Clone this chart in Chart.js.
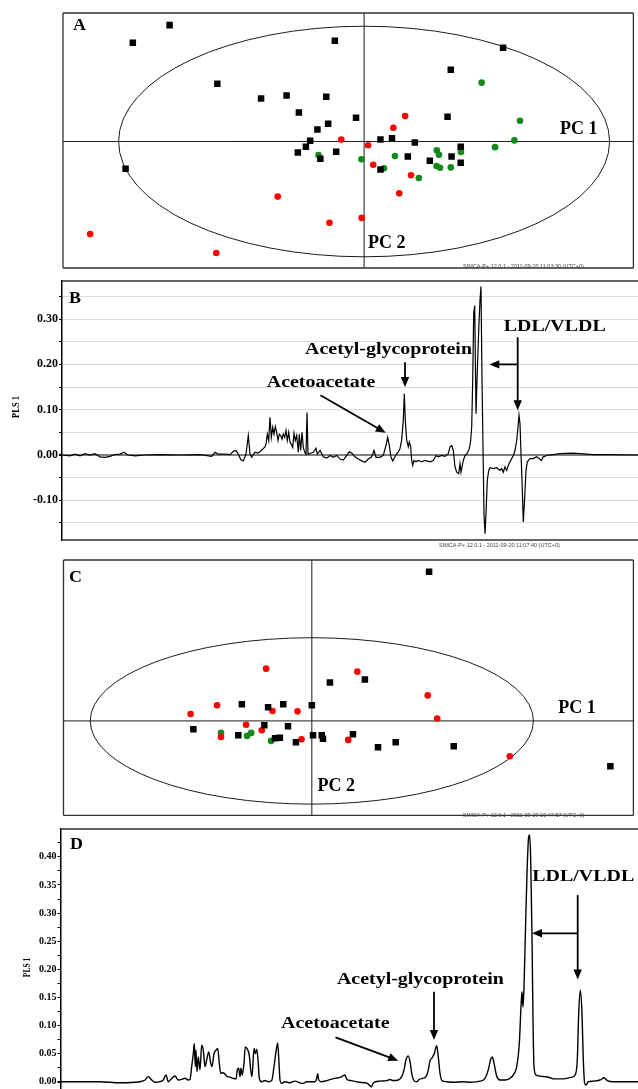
<!DOCTYPE html>
<html>
<head>
<meta charset="utf-8">
<script src="https://cdn.jsdelivr.net/npm/chart.js@4.4.1/dist/chart.umd.min.js"></script>
<style>
  html, body { margin: 0; padding: 0; background: #fff; }
  #page { position: relative; width: 638px; height: 1089px; overflow: hidden; }
  #page canvas { position: absolute; left: 0; }
</style>
</head>
<body>
<div id="page">
  <canvas id="panelA" width="638" height="280" style="top:0"></canvas>
  <canvas id="panelB" width="638" height="270" style="top:280px"></canvas>
  <canvas id="panelC" width="638" height="270" style="top:550px"></canvas>
  <canvas id="panelD" width="638" height="269" style="top:820px"></canvas>
</div>
<script>
// scores, panel A (t[1] / t[2])
const aBlackT1 = [-7.25, -8.62, -1.09, 5.18, 3.23, -5.47, -3.84, -2.89, -1.41, -2.43, -0.30, -1.34, -1.74, 3.11, -2.01,
  -2.17, -2.47, -1.04, -1.63, 0.61, 1.04, 1.89, 1.63, 2.45, 3.60, 3.26, 3.60, 0.61, -8.89];
const aBlackT2 = [4.31, 3.66, 3.73, 3.47, 2.66, 2.14, 1.59, 1.70, 1.66, 1.07, 0.88, 0.66, 0.44, 0.92, 0.03,
  -0.19, -0.41, -0.38, -0.64, 0.07, 0.12, -0.04, -0.56, -0.71, -0.19, -0.56, -0.79, -1.04, -1.01];
const aRedT1 = [1.53, 1.09, -0.85, 0.15, 0.34, 1.75, 1.31, -3.22, -1.29, -0.09, -10.21, -5.51];
const aRedT2 = [0.94, 0.51, 0.07, -0.14, -0.86, -1.25, -1.92, -2.04, -3.01, -2.83, -3.43, -4.13];
const aGreenT1 = [4.38, 5.81, 5.60, 4.88, 2.71, 2.79, 3.61, 2.70, 2.83, 3.23, 2.04, 1.15, 0.74, -0.10, -1.70];
const aGreenT2 = [2.18, 0.77, 0.04, -0.21, -0.33, -0.49, -0.39, -0.91, -0.97, -0.96, -1.35, -0.54, -0.99, -0.66, -0.50];

// scores, panel C
const cBlackT1 = [5.90, 0.91, 2.67, -3.52, -2.20, -1.44, 0.00, -2.39, -1.20, -5.96, -3.70, -1.85, -1.61, -0.80, 0.06,
  0.50, 0.56, 2.07, 3.33, 4.22, 7.14, 15.02];
const cBlackT2 = [7.47, 1.93, 2.08, 0.83, 0.68, 0.83, 0.78, -0.22, -0.27, -0.42, -0.72, -0.87, -0.84, -1.07, -0.72,
  -0.72, -0.89, -0.67, -1.32, -1.07, -1.27, -2.27];
const cRedT1 = [-2.30, 2.29, 5.83, 6.31, -6.10, -4.77, -1.98, -0.72, -3.31, -2.52, -4.57, -0.52, 1.83, 9.96];
const cRedT2 = [2.62, 2.47, 1.28, 0.12, 0.35, 0.78, 0.50, 0.48, -0.19, -0.47, -0.80, -0.92, -0.95, -1.77];
const cGreenT1 = [-4.57, -3.26, -3.05, -2.05];
const cGreenT2 = [-0.60, -0.75, -0.60, -1.00];

// loadings, panel B
const bShift = [0, 8, 13, 18, 23, 28, 33, 38, 43, 48,
  53, 58, 62, 66, 73, 83, 98, 118, 138, 149.7,
  153, 156.3, 163, 168, 171.3, 174, 176.3, 178.7, 181.3, 184,
  186.3, 188, 189.7, 191.3, 193, 196.3, 199.7, 203, 204, 205.3,
  206.7, 208, 209.3, 210.7, 212, 213.3, 214.7, 216, 217.3, 218.7,
  220, 221.3, 222.7, 224, 225.3, 226.7, 228, 229.3, 230.7, 232,
  233.3, 234.7, 236.3, 237.3, 238.7, 240, 241.3, 242.7, 244, 245,
  246, 248.7, 251.3, 254, 255.3, 258, 261.3, 264.7, 268, 271.3,
  274.7, 278, 281.3, 284.7, 287.3, 290, 293, 296.3, 299.7, 303,
  306.3, 309.7, 312, 314, 318, 321.3, 324, 325.7, 327.3, 329,
  330.7, 333, 334.7, 336.3, 338, 339.7, 341.3, 342.3, 343.3, 344.7,
  346.3, 347.3, 348.7, 349.7, 350.7, 352, 354, 356.3, 359.7, 363,
  368, 371.3, 374, 376.3, 379.7, 383, 386.3, 388, 389.7, 391.3,
  393, 394.7, 396.7, 398, 399, 400, 401.3, 403, 405.3, 407.3,
  408.7, 409.7, 410.7, 411.7, 412.7, 414, 415, 416.7, 418, 419,
  420, 421, 422, 423, 424, 425.3, 426.7, 428, 431.3, 434.7,
  438, 439.7, 441.3, 443, 444.7, 446.3, 448, 449.7, 451.3, 453,
  454.7, 456, 457, 458, 459, 460, 461.3, 462.7, 464, 465.3,
  468, 471.3, 474.7, 477.3, 479.3, 481.3, 484.7, 491.3, 498, 511.3,
  518, 531.3, 544.7, 576];
const bLoading = [0, -0.002, 0.002, -0.002, 0.003, 0, 0.003, -0.004, -0.005, -0.003,
  0.001, 0.002, 0.006, 0, -0.002, 0, 0.001, 0, 0.001, -0.003,
  0.006, 0.002, 0.002, 0.001, 0.008, 0.010, 0.002, -0.010, -0.013, 0.002,
  0.043, 0.002, -0.005, 0.001, 0.006, 0.004, 0.011, 0.018, 0.024, 0.046,
  0.032, 0.083, 0.039, 0.061, 0.046, 0.063, 0.050, 0.032, 0.046, 0.043,
  0.035, 0.046, 0.039, 0.054, 0.032, 0.050, 0.028, 0.024, 0.017, 0.048,
  0.032, 0.043, 0.006, 0.046, 0.010, 0.050, 0.017, 0.006, 0.002, 0.094,
  0.002, 0.004, 0.006, 0.015, 0.002, 0.010, -0.004, -0.007, -0.001, -0.005,
  -0.001, -0.009, -0.011, -0.001, 0.007, 0.004, -0.004, -0.009, -0.013, -0.016,
  -0.009, -0.004, 0.010, -0.005, -0.005, -0.001, 0.021, 0.039, 0.021, -0.005,
  -0.013, -0.004, 0.003, 0.007, 0.014, 0.034, 0.077, 0.135, 0.077, 0.032,
  0.018, 0.029, 0.018, -0.012, -0.023, -0.012, -0.015, -0.012, -0.015, -0.012,
  -0.015, -0.012, -0.001, -0.004, -0.001, -0.003, 0.003, 0.018, 0.021, 0.010,
  -0.026, -0.038, -0.041, -0.019, -0.038, -0.026, -0.012, -0.001, 0.004, 0.014,
  0.032, 0.062, 0.165, 0.312, 0.330, 0.091, 0.165, 0.275, 0.342, 0.372,
  0.165, 0.018, -0.130, -0.174, -0.130, -0.056, -0.034, -0.028, -0.030, -0.028,
  -0.034, -0.030, -0.038, -0.026, -0.034, -0.023, -0.015, -0.008, -0.001, 0.010,
  0.032, 0.062, 0.088, 0.069, 0.003, -0.056, -0.148, -0.093, -0.034, -0.015,
  -0.008, -0.008, -0.004, -0.008, -0.012, -0.004, -0.001, 0.001, 0.003, 0.004,
  0.003, 0.001, 0.001, 0];

// loadings, panel D
const dShift = [0, 39.5, 59.5, 74.5, 79.5, 84.5, 87.8, 91.2, 94.5, 99.5,
  102.8, 105.5, 107.8, 110.2, 114.5, 117.8, 121.2, 124.5, 127.8, 129.5,
  131.2, 132.8, 133.8, 134.8, 135.5, 136.5, 137.8, 139.5, 141.2, 142.8,
  144.5, 146.2, 148.2, 150.2, 151.5, 153.5, 155.5, 157.2, 158.8, 160.2,
  162.8, 166.2, 169.5, 172.8, 175.5, 176.8, 178.2, 179.5, 180.5, 181.8,
  183.5, 184.8, 186.8, 188.8, 190.2, 191.5, 193.5, 194.8, 196.2, 197.5,
  198.8, 201.2, 204.5, 207.8, 211.2, 213.5, 215.5, 217.2, 218.5, 219.5,
  221.2, 224.5, 229.5, 234.5, 239.5, 242.8, 246.2, 254.5, 256.2, 257.2,
  258.2, 261.2, 266.2, 270.1, 274.2, 280.3, 284.4, 286.5, 290.5, 298.5,
  306.8, 310.9, 313, 319.1, 326.2, 329.5, 332.8, 337.8, 341.2, 343.5,
  345.5, 347.8, 349.5, 351.5, 353.5, 356.2, 358.8, 362.2, 365.5, 367.8,
  369.5, 371.8, 373.8, 376.2, 377.8, 379.5, 381.5, 386.2, 392.8, 402.8,
  409.5, 419.5, 424.5, 427.8, 430.2, 431.8, 433.5, 436.2, 439.5, 444.5,
  449.5, 452.8, 456.2, 458.8, 460.5, 461.5, 462.5, 463.5, 464.8, 466.5,
  468.2, 469.2, 470.2, 471.5, 472.5, 473.5, 475.5, 479.5, 483.5, 487.8,
  492.8, 499.5, 506.2, 511.2, 514.5, 516.8, 518.2, 519.8, 521.5, 522.8,
  524.2, 525.5, 527.8, 532.8, 539.5, 543.5, 546.8, 552.8, 577.5];
const dLoading = [0, 0, -0.002, -0.001, 0, 0.003, 0.009, 0.003, -0.001, 0,
  0.003, 0.012, 0, 0.004, 0.010, 0.003, 0.004, 0.006, 0.003, 0.004,
  0.027, 0.050, 0.068, 0.027, 0.056, 0.018, 0.044, 0.021, 0.065, 0.056,
  0.027, 0.039, 0.053, 0.033, 0.027, 0.050, 0.056, 0.059, 0.033, 0.015,
  0.016, 0.010, 0.008, 0.006, 0.005, 0.021, 0.024, 0.009, 0.024, 0.012,
  0.033, 0.062, 0.058, 0.047, 0.021, 0.009, 0.059, 0.050, 0.058, 0.039,
  0.006, 0, 0.002, 0, 0.002, 0.027, 0.053, 0.069, 0.033, 0.003,
  -0.003, 0, -0.002, 0.001, -0.002, -0.003, 0, 0, 0.006, 0.014,
  0.003, 0, 0.002, 0.004, 0.006, 0.008, 0.012, 0.004, 0.002, -0.001,
  -0.003, -0.009, -0.002, 0.001, 0.002, 0.004, 0.002, 0.003, 0.009, 0.021,
  0.039, 0.046, 0.036, 0.012, 0.002, 0, 0.004, 0.006, 0.009, 0.021,
  0.037, 0.043, 0.050, 0.064, 0.044, 0.015, 0.002, 0, -0.001, 0,
  -0.001, 0.001, 0.006, 0.021, 0.040, 0.044, 0.033, 0.010, 0.003, 0.003,
  0.006, 0.012, 0.027, 0.068, 0.133, 0.160, 0.133, 0.169, 0.258, 0.371,
  0.436, 0.439, 0.394, 0.258, 0.110, 0.027, 0.012, 0.010, 0.009, 0.008,
  0.005, 0.005, 0.006, 0.008, 0.012, 0.039, 0.122, 0.163, 0.122, 0.039,
  -0.003, -0.006, 0, 0.001, 0.003, 0.007, 0.002, 0, 0];

const SERIF = '"Liberation Serif", "Times New Roman", serif';
Chart.defaults.font.family = SERIF;
Chart.defaults.color = '#000';

function pts(xs, ys) {
  return xs.map((v, i) => ({ x: v, y: ys[i] }));
}

function isMult(v, step) {
  const r = v / step;
  return Math.abs(r - Math.round(r)) < 1e-6;
}

function label(v) {
  return Math.abs(v) < 1e-9 ? '0.00' : v.toFixed(2);
}

// bold serif text, a little wider than normal like the scanned figure
function stretched(ctx, text, x, y, size, sx, align, rotate) {
  ctx.save();
  ctx.translate(x, y);
  ctx.scale(sx, 1);
  if (rotate) ctx.rotate(-Math.PI / 2);
  ctx.font = 'bold ' + size + 'px ' + SERIF;
  ctx.textAlign = align || 'center';
  ctx.textBaseline = 'middle';
  ctx.fillStyle = '#000';
  ctx.fillText(text, 0, 0);
  ctx.restore();
}

function arrow(ctx, x1, y1, x2, y2) {
  const ang = Math.atan2(y2 - y1, x2 - x1);
  const len = 10, half = 4.2;
  const c = Math.cos(ang), s = Math.sin(ang);
  ctx.beginPath();
  ctx.moveTo(x1, y1);
  ctx.lineTo(x2 - c * len * 0.8, y2 - s * len * 0.8);
  ctx.stroke();
  ctx.beginPath();
  ctx.moveTo(x2, y2);
  ctx.lineTo(x2 - len * c + half * s, y2 - len * s - half * c);
  ctx.lineTo(x2 - len * c - half * s, y2 - len * s + half * c);
  ctx.closePath();
  ctx.fill();
}

const decor = {
  id: 'decor',
  beforeDatasetsDraw(chart, args, o) {
    if (!o.ellipse) return;
    const { ctx, chartArea: a, scales: { x, y } } = chart;
    const cx = x.getPixelForValue(0), cy = y.getPixelForValue(0);
    ctx.save();
    ctx.strokeStyle = '#1a1a1a';
    ctx.lineWidth = 1;
    ctx.beginPath();
    ctx.moveTo(a.left, cy); ctx.lineTo(a.right, cy);
    ctx.moveTo(cx, a.top); ctx.lineTo(cx, a.bottom);
    ctx.stroke();
    ctx.beginPath();
    ctx.ellipse(cx, cy, x.getPixelForValue(o.ellipse.rx) - cx, cy - y.getPixelForValue(o.ellipse.ry), 0, 0, Math.PI * 2);
    ctx.stroke();
    ctx.restore();
  },
  afterDraw(chart, args, o) {
    const { ctx, chartArea: a, scales: { x, y } } = chart;
    ctx.save();
    ctx.strokeStyle = '#333';
    ctx.lineWidth = 1.3;
    ctx.beginPath();
    (o.frame || []).forEach(side => {
      if (side === 'top') { ctx.moveTo(a.left, a.top); ctx.lineTo(a.right, a.top); }
      if (side === 'bottom') { ctx.moveTo(a.left, a.bottom); ctx.lineTo(a.right, a.bottom); }
      if (side === 'left') { ctx.moveTo(a.left, a.top); ctx.lineTo(a.left, a.bottom); }
      if (side === 'right') { ctx.moveTo(a.right, a.top); ctx.lineTo(a.right, a.bottom); }
    });
    ctx.stroke();

    if (o.stamp) {
      ctx.font = '5.5px "Liberation Sans", Arial, sans-serif';
      ctx.fillStyle = '#444';
      ctx.textAlign = 'left';
      ctx.textBaseline = 'middle';
      ctx.fillText(o.stamp.text, o.stamp.x, o.stamp.y);
    }
    if (o.letter) stretched(ctx, o.letter.text, o.letter.x, o.letter.y, 16, 1.12, 'left');
    if (o.title) stretched(ctx, o.title.text, o.title.x, o.title.y, o.title.size, 1.3, 'center', true);

    (o.axisNames || []).forEach(t => {
      stretched(ctx, t.text, x.getPixelForValue(t.x), y.getPixelForValue(t.y), 18, 1.0, 'left');
    });

    ctx.strokeStyle = '#000';
    ctx.fillStyle = '#000';
    ctx.lineWidth = 1.8;
    (o.arrows || []).forEach(r => {
      arrow(ctx, x.getPixelForValue(r[0]), y.getPixelForValue(r[1]), x.getPixelForValue(r[2]), y.getPixelForValue(r[3]));
    });
    (o.notes || []).forEach(t => {
      stretched(ctx, t.text, x.getPixelForValue(t.x), y.getPixelForValue(t.y), 17.5, 1.14, 'center');
    });
    ctx.restore();
  }
};

function scoresChart(id, groups, xr, yr, pad, extra) {
  return new Chart(document.getElementById(id), {
    type: 'scatter',
    data: {
      datasets: [
        { data: pts(groups[0], groups[1]), pointStyle: 'rect', pointRadius: 4.6, backgroundColor: '#000', borderWidth: 0 },
        { data: pts(groups[2], groups[3]), pointStyle: 'circle', pointRadius: 3.3, backgroundColor: '#ff0000', borderWidth: 0 },
        { data: pts(groups[4], groups[5]), pointStyle: 'circle', pointRadius: 3.3, backgroundColor: '#12891a', borderWidth: 0 }
      ]
    },
    options: {
      responsive: false,
      animation: false,
      devicePixelRatio: 1,
      layout: { padding: pad },
      plugins: { legend: { display: false }, tooltip: { enabled: false }, decor: extra },
      scales: {
        x: { type: 'linear', display: false, min: xr[0], max: xr[1] },
        y: { type: 'linear', display: false, min: yr[0], max: yr[1] }
      }
    },
    plugins: [decor]
  });
}

function loadingsChart(id, xs, ys, opt, extra) {
  return new Chart(document.getElementById(id), {
    type: 'line',
    data: {
      datasets: [{
        data: pts(xs, ys), borderColor: '#000', borderWidth: opt.lineWidth, pointRadius: 0,
        tension: 0, cubicInterpolationMode: opt.smooth ? 'monotone' : 'default'
      }]
    },
    options: {
      responsive: false,
      animation: false,
      devicePixelRatio: 1,
      layout: { padding: opt.pad },
      plugins: { legend: { display: false }, tooltip: { enabled: false }, decor: extra },
      scales: {
        x: { type: 'linear', display: false, min: 0, max: opt.xMax },
        y: {
          type: 'linear',
          min: opt.yMin,
          max: opt.yMax,
          afterFit(s) { s.width = opt.axisLeft; s.paddingTop = 0; s.paddingBottom = 0; },
          border: { color: '#000', width: 1.5 },
          grid: {
            drawOnChartArea: opt.gridLines,
            color: c => (c.tick && Math.abs(c.tick.value) < 1e-9) ? '#808080' : '#dcdcdc',
            lineWidth: c => (c.tick && Math.abs(c.tick.value) < 1e-9) ? 2 : 1,
            tickColor: '#000',
            tickLength: 3
          },
          ticks: {
            stepSize: opt.step,
            includeBounds: false,
            autoSkip: false,
            padding: 1,
            color: '#000',
            font: { size: opt.fontSize, weight: 'bold' },
            callback: v => isMult(v, opt.labelStep) ? label(v) : ''
          }
        }
      }
    },
    plugins: [decor]
  });
}

scoresChart('panelA', [aBlackT1, aBlackT2, aRedT1, aRedT2, aGreenT1, aGreenT2],
  [-11.222, 10.037], [-4.685, 4.759],
  { left: 63, top: 13, right: 1, bottom: 12 },
  {
    frame: ['top', 'bottom', 'left', 'right'],
    ellipse: { rx: 9.15, ry: 4.27 },
    letter: { text: 'A', x: 73, y: 25.5 },
    axisNames: [{ text: 'PC 1', x: 7.30, y: 0.46 }, { text: 'PC 2', x: 0.15, y: -3.76 }],
    stamp: { text: 'SIMCA-P+ 12.0.1 - 2011-09-20 11:03:30 (UTC+0)', x: 463, y: 266.5 }
  });

loadingsChart('panelB', bShift, bLoading,
  {
    lineWidth: 1.2, smooth: false, pad: { top: 1, bottom: 10, left: 0, right: 0 },
    xMax: 576, yMin: -0.1876, yMax: 0.3841, axisLeft: 62,
    gridLines: true, step: 0.05, labelStep: 0.1, fontSize: 12
  },
  {
    frame: ['top', 'bottom'],
    letter: { text: 'B', x: 69, y: 18.5 },
    title: { text: 'PLS 1', x: 16, y: 127, size: 8.5 },
    stamp: { text: 'SIMCA-P+ 12.0.1 - 2011-09-20 11:07:40 (UTC+0)', x: 439, y: 265 },
    notes: [
      { text: 'Acetyl-glycoprotein', x: 326.5, y: 0.234 },
      { text: 'Acetoacetate', x: 259, y: 0.159 },
      { text: 'LDL/VLDL', x: 492.7, y: 0.284 }
    ],
    arrows: [
      [343, 0.205, 343, 0.150],
      [258.4, 0.132, 323.7, 0.049],
      [455.7, 0.260, 455.7, 0.099],
      [455.7, 0.200, 427.3, 0.200]
    ]
  });

scoresChart('panelC', [cBlackT1, cBlackT2, cRedT1, cRedT2, cGreenT1, cGreenT2],
  [-12.495, 16.18], [-4.735, 8.065],
  { left: 63.5, top: 10, right: 1, bottom: 4 },
  {
    frame: ['top', 'bottom', 'left', 'right'],
    ellipse: { rx: 11.15, ry: 4.17 },
    letter: { text: 'C', x: 69, y: 27.5 },
    axisNames: [{ text: 'PC 1', x: 12.40, y: 0.615 }, { text: 'PC 2', x: 0.28, y: -3.27 }],
    stamp: { text: 'SIMCA-P+ 12.0.1 - 2011-09-20 10:47:57 (UTC+0)', x: 463, y: 265 }
  });

loadingsChart('panelD', dShift, dLoading,
  {
    lineWidth: 1.4, smooth: true, pad: { top: 9, bottom: 0, left: 0, right: 0 },
    xMax: 577.5, yMin: -0.013, yMax: 0.4496, axisLeft: 60.5,
    gridLines: false, step: 0.025, labelStep: 0.05, fontSize: 10
  },
  {
    frame: ['top'],
    letter: { text: 'D', x: 70, y: 24.4 },
    title: { text: 'PLS 1', x: 27.5, y: 147.5, size: 7.5 },
    notes: [
      { text: 'LDL/VLDL', x: 522.8, y: 0.366 },
      { text: 'Acetyl-glycoprotein', x: 359.9, y: 0.182 },
      { text: 'Acetoacetate', x: 274.8, y: 0.1036 }
    ],
    arrows: [
      [517.2, 0.332, 517.2, 0.182],
      [517.2, 0.264, 471.5, 0.264],
      [373.5, 0.160, 373.5, 0.074],
      [275, 0.079, 337.8, 0.0374]
    ]
  });
</script>
</body>
</html>
